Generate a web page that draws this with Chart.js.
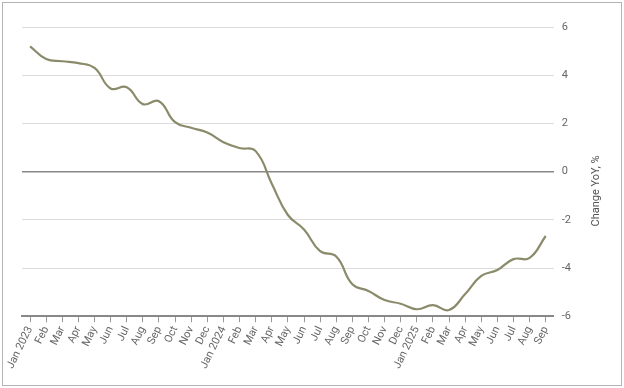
<!DOCTYPE html>
<html>
<head>
<meta charset="utf-8">
<script src="https://cdn.jsdelivr.net/npm/chart.js@4"></script>
<style>
  html, body { margin: 0; padding: 0; background: #fff; }
  #wrap { position: relative; width: 624px; height: 388px; }
  #frame { position: absolute; left: 2px; top: 2px; width: 618px; height: 382px; border: 1px solid #b4b4b4; pointer-events: none; }
</style>
</head>
<body>
<div id="wrap">
  <canvas id="yoyChart" width="624" height="388"></canvas>
  <div id="frame"></div>
</div>
<script>
const months = [
  "Jan 2023", "Feb", "Mar", "Apr", "May", "Jun", "Jul", "Aug", "Sep", "Oct", "Nov", "Dec",
  "Jan 2024", "Feb", "Mar", "Apr", "May", "Jun", "Jul", "Aug", "Sep", "Oct", "Nov", "Dec",
  "Jan 2025", "Feb", "Mar", "Apr", "May", "Jun", "Jul", "Aug", "Sep"
];

const changeYoY = [
  5.2, 4.67, 4.58, 4.5, 4.3, 3.45, 3.5, 2.8, 2.92, 2.05, 1.82, 1.62,
  1.22, 0.98, 0.85, -0.5, -1.8, -2.4, -3.3, -3.52, -4.67, -4.95, -5.33, -5.48,
  -5.71, -5.54, -5.74, -5.08, -4.33, -4.08, -3.63, -3.58, -2.67
];

const yTicks = [-6, -4, -2, 0, 2, 4, 6];
const yTitle = "Change YoY, %";

// right axis title reads bottom-to-top, so draw it ourselves
const sideTitle = {
  id: "sideTitle",
  afterDraw(chart) {
    const c = chart.ctx;
    c.save();
    c.translate(596, 191);
    c.rotate(-Math.PI / 2);
    c.fillStyle = "#555";
    c.font = "11px Roboto";
    c.textAlign = "center";
    c.textBaseline = "middle";
    c.fillText(yTitle, 0, 0);
    c.restore();
  }
};

const ctx = document.getElementById("yoyChart").getContext("2d");

new Chart(ctx, {
  type: "line",
  data: {
    labels: months,
    datasets: [{
      label: yTitle,
      data: changeYoY,
      borderColor: "#8b8b6c",
      borderWidth: 2.2,
      fill: false,
      tension: 0.45,
      pointRadius: 0
    }]
  },
  options: {
    responsive: false,
    animation: false,
    layout: { padding: { left: 22, right: 45, top: 27, bottom: 15 } },
    plugins: {
      legend: { display: false },
      tooltip: { enabled: false }
    },
    scales: {
      x: {
        offset: true,
        grid: {
          drawOnChartArea: false,
          drawTicks: true,
          tickLength: 6,
          color: "#999"
        },
        border: { display: true, color: "#888", width: 2 },
        ticks: {
          color: "#666",
          font: { family: "Roboto", size: 11 },
          maxRotation: 64,
          minRotation: 64,
          autoSkip: false,
          padding: 2
        }
      },
      y: {
        position: "right",
        min: -6,
        max: 6,
        afterBuildTicks: axis => { axis.ticks = yTicks.map(v => ({ value: v })); },
        grid: {
          color: c => (c.tick && c.tick.value === 0 ? "#888" : "#dcdcdc"),
          lineWidth: c => (c.tick && c.tick.value === 0 ? 1.5 : 1),
          drawTicks: false
        },
        border: { display: false },
        ticks: {
          color: "#666",
          font: { family: "Roboto", size: 11 },
          padding: 8
        }
      }
    }
  },
  plugins: [sideTitle]
});
</script>
</body>
</html>
